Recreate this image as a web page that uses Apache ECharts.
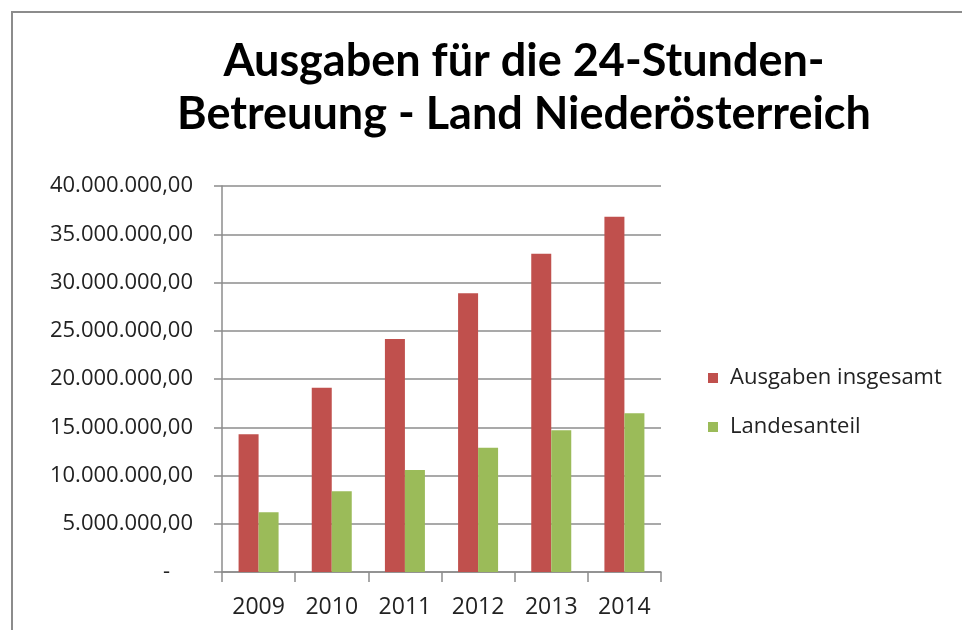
<!DOCTYPE html>
<html>
<head>
<meta charset="UTF-8">
<title>Ausgaben 24-Stunden-Betreuung</title>
<script src="https://cdn.jsdelivr.net/npm/echarts@6/dist/echarts.min.js"></script>
<style>
  body { margin: 0; background: #fff; }
  #main { position: absolute; left: 0; top: 0; width: 962px; height: 630px; }
  /* Rahmen oben/links wie im Excel-Screenshot */
  #frame { position: absolute; left: 11px; top: 11px; width: 1000px; height: 700px;
           border-top: 2px solid #8c8c8c; border-left: 2px solid #8c8c8c; pointer-events: none; }
</style>
</head>
<body>
<div id="main"></div>
<div id="frame"></div>
<script>
// Daten
var jahre = ['2009', '2010', '2011', '2012', '2013', '2014'];
var ausgabenInsgesamt = [14270000, 19100000, 24150000, 28880000, 32990000, 36820000];
var landesanteil = [6180000, 8360000, 10570000, 12880000, 14680000, 16440000];
var serienNamen = ['Ausgaben insgesamt', 'Landesanteil'];

function fmtZahl(v) {
  if (v === 0) return '-    ';
  return Math.round(v).toString().replace(/\B(?=(\d{3})+(?!\d))/g, '.') + ',00';
}

var myChart = echarts.init(document.getElementById('main'));

var option = {
  animation: false,
  title: {
    text: 'Ausgaben für die 24-Stunden-\nBetreuung - Land Niederösterreich',
    left: 519,
    top: 30,
    textAlign: 'center',
    padding: 5,
    textStyle: {
      fontFamily: "Lato, 'Open Sans', sans-serif",
      fontWeight: 'bold',
      fontSize: 45,
      lineHeight: 53,
      color: '#000'
    }
  },
  legend: {
    orient: 'vertical',
    left: 703,
    top: 360,
    itemWidth: 10,
    itemHeight: 10,
    itemGap: 23,
    icon: 'rect',
    data: serienNamen,
    textStyle: {
      fontFamily: "'Open Sans', sans-serif",
      fontSize: 22,
      lineHeight: 26,
      color: '#222',
      padding: [0, 0, 0, 7]
    }
  },
  grid: {
    left: 222,
    right: 301,
    top: 186,
    bottom: 58,
    containLabel: false
  },
  xAxis: {
    type: 'category',
    data: jahre,
    axisLine: { lineStyle: { color: '#8c8c8c', width: 1.5 } },
    axisTick: { show: true, length: 10, lineStyle: { color: '#8c8c8c', width: 1.5 } },
    axisLabel: {
      margin: 24,
      fontFamily: "'Open Sans', sans-serif",
      fontSize: 23,
      color: '#222'
    }
  },
  yAxis: {
    type: 'value',
    min: 0,
    max: 40000000,
    interval: 5000000,
    axisLine: { show: true, lineStyle: { color: '#8c8c8c', width: 1.5 } },
    axisTick: { show: true, length: 8, lineStyle: { color: '#8c8c8c', width: 1.5 } },
    splitLine: { lineStyle: { color: '#8c8c8c', width: 1.5 } },
    axisLabel: {
      margin: 29,
      fontFamily: "'Open Sans', sans-serif",
      fontSize: 22,
      color: '#222',
      formatter: fmtZahl
    }
  },
  series: [
    {
      name: serienNamen[0],
      type: 'bar',
      data: ausgabenInsgesamt,
      barWidth: 20,
      barGap: '0%',
      itemStyle: { color: '#C0504D' }
    },
    {
      name: serienNamen[1],
      type: 'bar',
      data: landesanteil,
      barWidth: 20,
      itemStyle: { color: '#9BBB59' }
    }
  ]
};

myChart.setOption(option);
</script>
</body>
</html>
